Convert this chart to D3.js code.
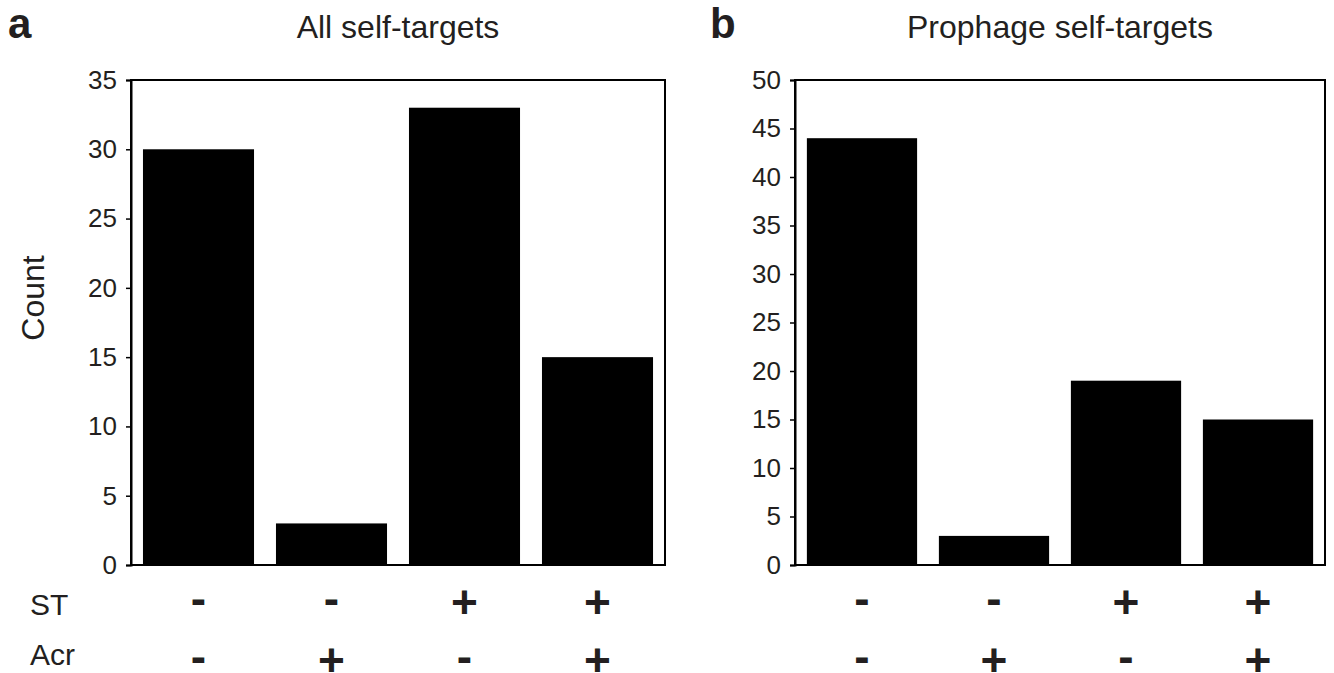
<!DOCTYPE html>
<html>
<head>
    <script src="https://cdn.jsdelivr.net/npm/d3@7"></script>
    <style>
        body { margin: 0; background: #fff; overflow: hidden; }
        svg { display: block; }
        text { font-family: "Liberation Sans", Arial, sans-serif; fill: #231f20; }
    </style>
</head>
<body>
    <svg width="1334" height="673"></svg>
    <script>
        // data
        const groups = ["g1", "g2", "g3", "g4"];
        const stSigns = ["-", "-", "+", "+"];
        const acrSigns = ["-", "+", "-", "+"];
        const allCounts = [30, 3, 33, 15];
        const prophageCounts = [44, 3, 19, 15];
        const allTicks = [0, 5, 10, 15, 20, 25, 30, 35];
        const prophageTicks = [0, 5, 10, 15, 20, 25, 30, 35, 40, 45, 50];

        const svg = d3.select("svg");
        const plotTop = 80, plotBottom = 565;

        function panel(opts) {
            const x = d3.scaleBand().domain(groups)
                .range([opts.left, opts.right])
                .paddingInner(0.165).paddingOuter(0.09);
            const y = d3.scaleLinear().domain([0, opts.max]).range([plotBottom, plotTop]);

            const g = svg.append("g");

            g.selectAll(".bar")
                .data(opts.values)
                .enter().append("rect")
                .attr("class", "bar")
                .attr("x", (d, i) => x(groups[i]))
                .attr("y", d => y(d))
                .attr("width", x.bandwidth())
                .attr("height", d => plotBottom - y(d))
                .attr("fill", "#000");

            // frame around the plot
            g.append("rect")
                .attr("x", opts.left).attr("y", plotTop)
                .attr("width", opts.right - opts.left)
                .attr("height", plotBottom - plotTop)
                .attr("fill", "none")
                .attr("stroke", "#000")
                .attr("stroke-width", 2);

            const ax = g.append("g")
                .attr("transform", `translate(${opts.left},0)`)
                .call(d3.axisLeft(y).tickValues(opts.ticks).tickSize(5).tickPadding(9));
            ax.select(".domain").attr("stroke-width", 2);
            ax.selectAll(".tick line").attr("stroke-width", 1.5);
            ax.selectAll(".tick text")
                .attr("font-size", 26)
                .attr("font-family", "Liberation Sans, Arial, sans-serif")
                .attr("fill", "#231f20");

            g.append("text")
                .attr("x", (opts.left + opts.right) / 2)
                .attr("y", 38)
                .attr("text-anchor", "middle")
                .attr("font-size", 32)
                .text(opts.title);

            g.append("text")
                .attr("x", opts.letterX)
                .attr("y", 38)
                .attr("font-size", 42)
                .attr("font-weight", "bold")
                .text(opts.letter);

            // +/- rows under the bars
            [[stSigns, 602], [acrSigns, 660]].forEach(([signs, yy]) => {
                g.selectAll(null)
                    .data(signs)
                    .enter().append("text")
                    .attr("x", (d, i) => x(groups[i]) + x.bandwidth() / 2)
                    .attr("y", yy)
                    .attr("dy", d => d === "-" ? "0.27em" : "0.355em")
                    .attr("text-anchor", "middle")
                    .attr("font-size", 46)
                    .attr("font-weight", "bold")
                    .text(d => d);
            });
        }

        panel({ left: 131, right: 665, max: 35, ticks: allTicks, values: allCounts,
                title: "All self-targets", letter: "a", letterX: 8 });
        panel({ left: 795, right: 1325, max: 50, ticks: prophageTicks, values: prophageCounts,
                title: "Prophage self-targets", letter: "b", letterX: 710 });

        svg.append("text")
            .attr("transform", "translate(44,298) rotate(-90)")
            .attr("text-anchor", "middle")
            .attr("font-size", 32)
            .text("Count");

        svg.append("text").attr("x", 30).attr("y", 615).attr("font-size", 30).text("ST");
        svg.append("text").attr("x", 30).attr("y", 665).attr("font-size", 30).text("Acr");
    </script>
</body>
</html>
